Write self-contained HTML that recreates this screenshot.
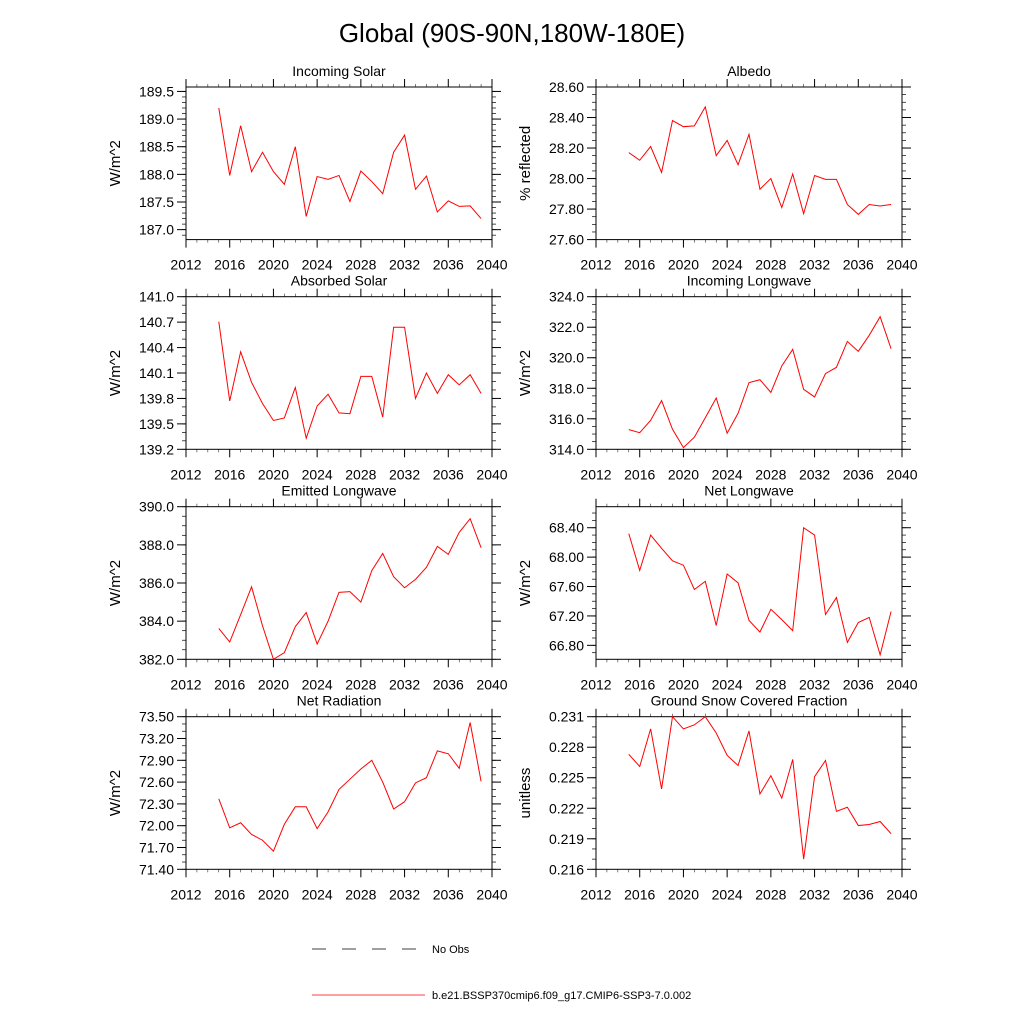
<!DOCTYPE html>
<html><head><meta charset="utf-8">
<style>
html,body{margin:0;padding:0;background:#fff;}
svg{display:block;font-family:"Liberation Sans",sans-serif;}
</style></head>
<body>
<svg id="chart" width="1024" height="1024" viewBox="0 0 1024 1024">
<text x="512" y="42" font-size="26" text-anchor="middle">Global (90S-90N,180W-180E)</text>
<g id="panels"></g>
<g>
<line x1="312" y1="949" x2="418" y2="949" stroke="#000" stroke-width="0.8" stroke-dasharray="14,16"/>
<text x="432" y="953" font-size="11">No Obs</text>
<line x1="312" y1="995" x2="425" y2="995" stroke="#f00" stroke-width="0.8"/>
<text x="432" y="999" font-size="11">b.e21.BSSP370cmip6.f09_g17.CMIP6-SSP3-7.0.002</text>
</g>
</svg>
<script>
const years = [2015,2016,2017,2018,2019,2020,2021,2022,2023,2024,2025,2026,2027,2028,2029,2030,2031,2032,2033,2034,2035,2036,2037,2038,2039];
const xTicks = [2012,2016,2020,2024,2028,2032,2036,2040];
const incomingSolar = [189.2,187.98,188.88,188.05,188.4,188.05,187.82,188.5,187.24,187.96,187.91,187.98,187.51,188.06,187.87,187.65,188.4,188.71,187.73,187.97,187.32,187.52,187.42,187.43,187.2];
const albedo = [28.17,28.12,28.21,28.04,28.38,28.34,28.345,28.47,28.15,28.25,28.09,28.29,27.93,28.0,27.81,28.03,27.77,28.02,27.995,27.995,27.83,27.765,27.83,27.82,27.83];
const absorbedSolar = [140.705,139.77,140.35,139.99,139.74,139.54,139.57,139.93,139.33,139.71,139.85,139.63,139.62,140.06,140.06,139.58,140.64,140.64,139.8,140.1,139.86,140.08,139.96,140.08,139.86];
const incomingLongwave = [315.29,315.09,315.9,317.19,315.31,314.11,314.79,316.07,317.36,315.05,316.36,318.37,318.56,317.73,319.46,320.55,317.93,317.43,318.96,319.37,321.07,320.42,321.47,322.69,320.59];
const emittedLongwave = [383.62,382.91,384.34,385.8,383.76,382.0,382.35,383.71,384.45,382.8,384.0,385.51,385.55,385.0,386.65,387.55,386.33,385.75,386.19,386.82,387.92,387.5,388.65,389.37,387.85];
const netLongwave = [68.32,67.82,68.3,68.12,67.95,67.89,67.56,67.67,67.07,67.77,67.65,67.14,66.98,67.29,67.15,67.0,68.4,68.3,67.22,67.45,66.84,67.11,67.18,66.67,67.26];
const netRadiation = [72.37,71.97,72.04,71.88,71.8,71.65,72.02,72.26,72.26,71.96,72.19,72.5,72.64,72.78,72.9,72.6,72.23,72.33,72.59,72.66,73.03,72.99,72.79,73.42,72.61];
const snowFraction = [0.2273,0.2261,0.2298,0.2239,0.231,0.2298,0.2302,0.231,0.2294,0.2272,0.2262,0.2296,0.2234,0.2252,0.223,0.2268,0.217,0.2251,0.2267,0.2217,0.2221,0.2203,0.2204,0.2207,0.2195];
const yTicksIncomingSolar = ["187.0","187.5","188.0","188.5","189.0","189.5"];
const yTicksAlbedo = ["27.60","27.80","28.00","28.20","28.40","28.60"];
const yTicksAbsorbed = ["139.2","139.5","139.8","140.1","140.4","140.7","141.0"];
const yTicksIncomingLW = ["314.0","316.0","318.0","320.0","322.0","324.0"];
const yTicksEmittedLW = ["382.0","384.0","386.0","388.0","390.0"];
const yTicksNetLW = ["66.80","67.20","67.60","68.00","68.40"];
const yTicksNetRad = ["71.40","71.70","72.00","72.30","72.60","72.90","73.20","73.50"];
const yTicksSnow = ["0.216","0.219","0.222","0.225","0.228","0.231"];

const NS="http://www.w3.org/2000/svg";
const root=document.getElementById('panels');
function mk(tag,attrs,parent){const e=document.createElementNS(NS,tag);for(const k in attrs)e.setAttribute(k,attrs[k]);parent.appendChild(e);return e;}

const panels=[
 {name:'incoming-solar',title:'Incoming Solar',yt:'W/m^2',col:0,row:0,ymin:186.82,ymax:189.58,minor:0.1,data:incomingSolar,ticks:yTicksIncomingSolar},
 {name:'albedo',title:'Albedo',yt:'% reflected',col:1,row:0,ymin:27.6,ymax:28.6,minor:0.05,data:albedo,ticks:yTicksAlbedo},
 {name:'absorbed-solar',title:'Absorbed Solar',yt:'W/m^2',col:0,row:1,ymin:139.2,ymax:141.0,minor:0.1,data:absorbedSolar,ticks:yTicksAbsorbed},
 {name:'incoming-longwave',title:'Incoming Longwave',yt:'W/m^2',col:1,row:1,ymin:314,ymax:324,minor:0.5,data:incomingLongwave,ticks:yTicksIncomingLW},
 {name:'emitted-longwave',title:'Emitted Longwave',yt:'W/m^2',col:0,row:2,ymin:382,ymax:390,minor:0.5,data:emittedLongwave,ticks:yTicksEmittedLW},
 {name:'net-longwave',title:'Net Longwave',yt:'W/m^2',col:1,row:2,ymin:66.61,ymax:68.686,minor:0.1,data:netLongwave,ticks:yTicksNetLW},
 {name:'net-radiation',title:'Net Radiation',yt:'W/m^2',col:0,row:3,ymin:71.4,ymax:73.5,minor:0.1,data:netRadiation,ticks:yTicksNetRad},
 {name:'ground-snow-covered-fraction',title:'Ground Snow Covered Fraction',yt:'unitless',col:1,row:3,ymin:0.216,ymax:0.231,minor:0.001,data:snowFraction,ticks:yTicksSnow}
];
const colX=[186,596], rowY=[87,296.7,506.7,716.7], W=306, H=152.6;

panels.forEach(p=>{
 const x0=colX[p.col], y0=rowY[p.row];
 const g=mk('g',{},root);
 
 
 const sx=v=>x0+(v-2012)/28*W;
 const sy=v=>y0+H-(v-p.ymin)/(p.ymax-p.ymin)*H;
 const n0=Math.ceil(p.ymin/p.minor-1e-6), n1=Math.floor(p.ymax/p.minor+1e-6);
 for(let i=n0;i<=n1;i++){const y=sy(i*p.minor);
  mk('line',{x1:x0-4,y1:y,x2:x0,y2:y,stroke:'#000','stroke-width':0.7},g);
  mk('line',{x1:x0+W,y1:y,x2:x0+W+4,y2:y,stroke:'#000','stroke-width':0.7},g);}
 for(let yr=2012;yr<=2040;yr++){const x=sx(yr);
  mk('line',{x1:x,y1:y0+H,x2:x,y2:y0+H+3,stroke:'#000','stroke-width':0.5},g);
  mk('line',{x1:x,y1:y0,x2:x,y2:y0-3,stroke:'#000','stroke-width':0.5},g);}
 p.ticks.forEach(t=>{const y=sy(parseFloat(t));
  mk('line',{x1:x0-9,y1:y,x2:x0,y2:y,stroke:'#000','stroke-width':1},g);
  mk('line',{x1:x0+W,y1:y,x2:x0+W+9,y2:y,stroke:'#000','stroke-width':1},g);
  const tx=mk('text',{x:x0-12,y:y+5,'font-size':14,'text-anchor':'end'},g);
  
  
  tx.textContent=t;});
 xTicks.forEach(t=>{const x=sx(t);
  mk('line',{x1:x,y1:y0+H,x2:x,y2:y0+H+8,stroke:'#000','stroke-width':1},g);
  mk('line',{x1:x,y1:y0,x2:x,y2:y0-8,stroke:'#000','stroke-width':1},g);
  const tx=mk('text',{x:x,y:y0+H+30,'font-size':14,'text-anchor':'middle'},g);
  
  
  tx.textContent=t;});
 const fr=mk('rect',{x:x0,y:y0,width:W,height:H,fill:'none',stroke:'#000','stroke-width':1},g);
 
 
 const line=mk('polyline',{points:p.data.map((v,i)=>sx(years[i]).toFixed(2)+','+sy(v).toFixed(2)).join(' '),fill:'none',stroke:'#f00','stroke-width':1},g);
 
 
 const ti=mk('text',{x:x0+W/2,y:y0-11,'font-size':14,'text-anchor':'middle'},g);
 
 
 ti.textContent=p.title;
 const yx=x0-66, yy=y0+H/2;
 const yl=mk('text',{x:yx,y:yy,'font-size':15,'text-anchor':'middle',transform:`rotate(-90 ${yx} ${yy})`},g);
 
 
 yl.textContent=p.yt;
});
</script>
</body></html>
